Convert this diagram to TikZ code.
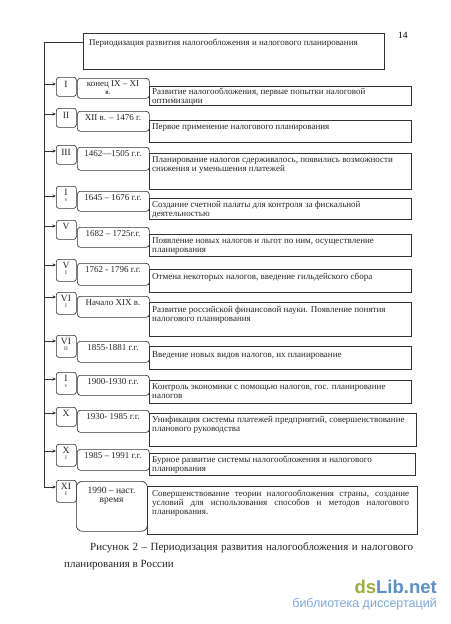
\documentclass[tikz,border=0pt]{standalone}
\usepackage{fontspec}
\setmainfont{Liberation Serif}
\newfontfamily\wmfont{Liberation Sans}
\usetikzlibrary{arrows.meta}
\definecolor{ln}{HTML}{333333}
\definecolor{wmgreen}{HTML}{9DAE3E}
\definecolor{wmblue}{HTML}{5B8FC9}
\definecolor{wmlight}{HTML}{7FA8D8}
\begin{document}
\begin{tikzpicture}[x=1pt,y=-1pt,
  rbox/.style={draw=ln, line width=0.65pt, rounded corners=2.5pt, anchor=north west, minimum width=20pt, minimum height=19pt, inner sep=0},
  rbox2/.style={rbox, minimum height=22pt},
  dbox/.style={draw=ln, line width=0.65pt, rounded corners=3pt, anchor=north west, minimum width=72pt, inner sep=0},
  sbox/.style={draw=ln, line width=0.65pt, anchor=north west, minimum width=262pt, inner sep=0},
  rlab/.style={font=\fontsize{9.5}{10}\selectfont, inner sep=0, text=black!85},
  rsub/.style={font=\fontsize{5.5}{6}\selectfont, inner sep=0, text=black!85},
  dlab/.style={font=\fontsize{9}{10}\selectfont, inner sep=0, text=black!85},
  stxt/.style={font=\fontsize{9}{9}\selectfont, inner sep=0, anchor=north west, align=left, text=black!85},
  arr/.style={draw=ln, line width=0.65pt, -{Stealth[length=3.5pt,width=3pt]}},
  captxt/.style={font=\fontsize{11}{13}\selectfont, inner sep=0, anchor=base west, text=black!85}]
\useasboundingbox[fill=white] (0,0) rectangle (450,624);

% page number
\node[font=\fontsize{9.5}{10}\selectfont, anchor=base west, inner sep=0] (pg) at (398,38) {14};

% title
\node[draw=ln, line width=0.65pt, anchor=north west, minimum width=301pt, minimum height=36pt, inner sep=0] (title) at (83,33) {};
\node[font=\fontsize{9}{9}\selectfont, anchor=west, inner sep=0, text=black!85] (titlet) at (89,43) {Периодизация развития налогообложения и налогового планирования};

% trunk
\coordinate (top) at (44,42);
\coordinate (bot) at (44,487);
\draw[draw=ln, line width=0.65pt] (top -| title.west) -- (top) -- (bot);

% Row I
\node[rbox] (r1) at (56,77) {};
\node[rlab] (r1t) at (66,84) {I};
\node[dbox, minimum height=20pt] (d1) at (77,78) {};
\node[dlab] (d1t) at (113,84) {конец IX – XI};
\node[font=\fontsize{7}{7}\selectfont, inner sep=0] (d1b) at (108,93) {в.};
\node[sbox, minimum height=19pt] (s1) at (149,86) {};
\node[stxt] (s1t) at (152,88) {Развитие налогообложения, первые попытки налоговой\\оптимизации};
\coordinate (a1) at (44,84);
\draw[arr] (a1) -- (a1 -| r1.west);

% Row II
\node[rbox] (r2) at (56,108) {};
\node[rlab] (r2t) at (66,115) {II};
\node[dbox, minimum height=20pt] (d2) at (77,111) {};
\node[dlab] (d2t) at (113,118) {XII в. – 1476 г.};
\node[sbox, minimum height=22pt] (s2) at (149,120) {};
\node[stxt] (s2t) at (152,123) {Первое применение налогового планирования};
\coordinate (a2) at (44,114);
\draw[arr] (a2) -- (a2 -| r2.west);

% Row III
\node[rbox] (r3) at (56,145) {};
\node[rlab] (r3t) at (66,152) {III};
\node[dbox, minimum height=23pt] (d3) at (77,147) {};
\node[dlab] (d3t) at (113,154) {1462—1505 г.г.};
\node[sbox, minimum height=36pt] (s3) at (149,153) {};
\node[stxt] (s3t) at (152,156) {Планирование налогов сдерживалось, появились возможности\\снижения и уменьшения платежей};
\coordinate (a3) at (44,151);
\draw[arr] (a3) -- (a3 -| r3.west);

% Row IV
\node[rbox2] (r4) at (56,186) {};
\node[rlab] (r4t) at (66,192) {I};
\node[rsub] (r4s) at (66,200) {v};
\node[dbox, minimum height=20pt] (d4) at (77,191) {};
\node[dlab] (d4t) at (113,198) {1645 – 1676 г.г.};
\node[sbox, minimum height=21pt] (s4) at (149,198) {};
\node[stxt] (s4t) at (152,201) {Создание счетной палаты для контроля за фискальной\\деятельностью};
\coordinate (a4) at (44,196);
\draw[arr] (a4) -- (a4 -| r4.west);

% Row V
\node[rbox] (r5) at (56,220) {};
\node[rlab] (r5t) at (66,226) {V};
\node[dbox, minimum height=20pt] (d5) at (77,227) {};
\node[dlab] (d5t) at (113,234) {1682 – 1725г.г.};
\node[sbox, minimum height=22pt] (s5) at (149,234) {};
\node[stxt] (s5t) at (152,237) {Появление новых налогов и льгот по ним, осуществление\\планирования};
\coordinate (a5) at (44,226);
\draw[arr] (a5) -- (a5 -| r5.west);

% Row VI
\node[rbox2] (r6) at (56,259) {};
\node[rlab] (r6t) at (66,265) {V};
\node[rsub] (r6s) at (66,273) {I};
\node[dbox, minimum height=22pt] (d6) at (77,263) {};
\node[dlab] (d6t) at (113,270) {1762 - 1796 г.г.};
\node[sbox, minimum height=23pt] (s6) at (149,269) {};
\node[stxt] (s6t) at (152,273) {Отмена некоторых налогов, введение гильдейского сбора};
\coordinate (a6) at (44,265);
\draw[arr] (a6) -- (a6 -| r6.west);

% Row VII
\node[rbox2] (r7) at (56,292) {};
\node[rlab] (r7t) at (66,298) {VI};
\node[rsub] (r7s) at (66,306) {I};
\node[dbox, minimum height=21pt] (d7) at (77,296) {};
\node[dlab] (d7t) at (113,303) {Начало XIX в.};
\node[sbox, minimum height=34pt] (s7) at (149,302) {};
\node[stxt] (s7t) at (152,306) {Развитие российской финансовой науки. Появление понятия\\налогового планирования};
\coordinate (a7) at (44,297);
\draw[arr] (a7) -- (a7 -| r7.west);

% Row VIII
\node[rbox2] (r8) at (56,335) {};
\node[rlab] (r8t) at (66,341) {VI};
\node[rsub] (r8s) at (66,349) {II};
\node[dbox, minimum height=21pt] (d8) at (77,341) {};
\node[dlab] (d8t) at (113,348) {1855-1881 г.г.};
\node[sbox, minimum height=23pt] (s8) at (149,346) {};
\node[stxt] (s8t) at (152,351) {Введение новых видов налогов, их планирование};
\coordinate (a8) at (44,341);
\draw[arr] (a8) -- (a8 -| r8.west);

% Row IX
\node[rbox2] (r9) at (56,372) {};
\node[rlab] (r9t) at (66,378) {I};
\node[rsub] (r9s) at (66,386) {v};
\node[dbox, minimum height=20pt] (d9) at (77,375) {};
\node[dlab] (d9t) at (113,382) {1900-1930 г.г.};
\node[sbox, minimum height=23pt] (s9) at (149,380) {};
\node[stxt] (s9t) at (152,383) {Контроль экономики с помощью налогов, гос. планирование\\налогов};
\coordinate (a9) at (44,379);
\draw[arr] (a9) -- (a9 -| r9.west);

% Row X
\node[rbox] (r10) at (56,407) {};
\node[rlab] (r10t) at (66,413) {X};
\node[dbox, minimum height=22pt] (d10) at (77,410) {};
\node[dlab] (d10t) at (113,417) {1930- 1985 г.г.};
\node[sbox, minimum height=33pt, minimum width=267pt] (s10) at (149,413) {};
\node[stxt] (s10t) at (152,416) {Унификация системы платежей предприятий, совершенствование\\планового руководства};
\coordinate (a10) at (44,413);
\draw[arr] (a10) -- (a10 -| r10.west);

% Row XI
\node[rbox2] (r11) at (56,444) {};
\node[rlab] (r11t) at (66,450) {X};
\node[rsub] (r11s) at (66,458) {I};
\node[dbox, minimum height=21pt] (d11) at (77,449) {};
\node[dlab] (d11t) at (113,456) {1985 – 1991 г.г.};
\node[sbox, minimum height=22pt, minimum width=266pt] (s11) at (149,453) {};
\node[stxt] (s11t) at (152,456) {Бурное развитие системы налогообложения и налогового\\планирования};
\coordinate (a11) at (44,451);
\draw[arr] (a11) -- (a11 -| r11.west);

% Row XII
\node[rbox2] (r12) at (56,480) {};
\node[rlab] (r12t) at (66,486) {XI};
\node[rsub] (r12s) at (66,494) {I};
\node[dbox, minimum height=50pt, minimum width=71pt, rounded corners=6pt] (d12) at (76,481) {};
\node[dlab, align=center, font=\fontsize{9.5}{8.5}\selectfont] (d12t) at (111.5,496) {1990 – наст.\\время};
\node[sbox, minimum height=48pt, minimum width=270pt] (s12) at (147,486) {};
\node[stxt] (s12t) at (152,490) {\makebox[257pt][s]{Совершенствование теории налогообложения страны, создание}\\
  \makebox[257pt][s]{условий для использования способов и методов налогового}\\планирования.};
\coordinate (a12) at (44,487);
\draw[arr] (bot) -- (a12 -| r12.west);

% caption
\node[captxt] (cap1) at (90,550) {\makebox[323pt][s]{Рисунок 2 – Периодизация развития налогообложения и налогового}};
\node[captxt] (cap2) at (64,567) {планирования в России};

% watermark
\node[font=\wmfont\bfseries\fontsize{18.5}{19}\selectfont, anchor=base east, inner sep=0] (wm1) at (437,593) {\textcolor{wmgreen}{ds}\textcolor{wmblue}{Lib.net}};
\node[font=\wmfont\fontsize{12.5}{13}\selectfont, anchor=base east, inner sep=0, text=wmlight] (wm2) at (437,607) {библиотека диссертаций};
\end{tikzpicture}
\end{document}
